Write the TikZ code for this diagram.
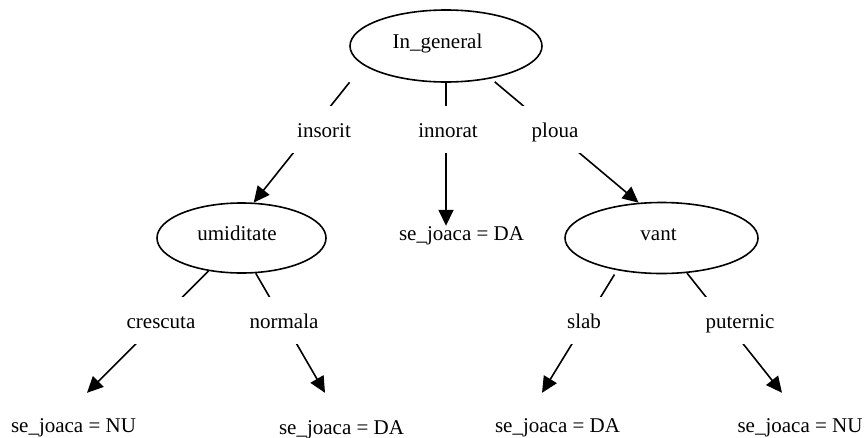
\documentclass[tikz,border=0pt]{standalone}
\usepackage{fontspec}
\setmainfont{Liberation Serif}
\usetikzlibrary{arrows.meta,shapes.geometric}
\tikzset{
  basefont/.style={font=\fontsize{21pt}{25pt}\selectfont},
  decision/.style={ellipse, draw, line width=1.6pt, inner sep=0pt,
    minimum width=#1, minimum height=71pt, text height=14pt, text depth=9pt, basefont},
  leaf/.style={inner sep=0pt, text height=14pt, text depth=5pt, anchor=base, basefont},
  edgelabel/.style={fill=white, inner xsep=10pt, inner ysep=11pt,
    text height=20pt, text depth=5pt, anchor=base, basefont},
  branch/.style={line width=1.6pt},
  arrowed/.style={branch, -{Triangle[length=16pt,width=15pt]}}
}
\begin{document}
\begin{tikzpicture}[x=1pt,y=-1pt]
\path[use as bounding box, fill=white] (0,0) rectangle (867,437);

% decision nodes
\node[decision=192pt, minimum height=72pt] (root) at (446,46) {In\_general\hspace*{17pt}};
\node[decision=169pt, minimum height=70pt] (umid) at (241.5,238) {umiditate\hspace*{9pt}};
\node[decision=193pt] (vant) at (661.5,238) {vant\hspace*{6pt}};

% leaves
\node[leaf] (da1) at (461.5,240) {se\_joaca = DA};
\node[leaf] (nu1) at (73.5,432) {se\_joaca = NU};
\node[leaf] (da2) at (341.5,434) {se\_joaca = DA};
\node[leaf] (da3) at (557.5,432) {se\_joaca = DA};
\node[leaf] (nu2) at (800,432) {se\_joaca = NU};

% edges
\draw[arrowed, shorten <=22pt] (root.193) -- (umid.71);
\draw[arrowed] (root.south) -- (root.south |- da1.north);
\draw[arrowed, shorten <=5pt] (root.-36) -- (vant.123);
\draw[arrowed] (umid.225) -- ([xshift=13.5pt,yshift=25pt]nu1.north);
\draw[arrowed] (umid.-68) -- ([xshift=-16.5pt,yshift=27pt]da2.north);
\draw[arrowed, shorten <=5pt] (vant.216) -- ([xshift=-15.5pt,yshift=25pt]da3.north);
\draw[arrowed] (vant.-54) -- ([xshift=-18pt,yshift=25pt]nu2.north);

% edge labels (cover the gap in each edge)
\node[edgelabel] (l-insorit) at (324,137) {insorit};
\node[edgelabel] (l-innorat) at (448,137) {innorat};
\node[edgelabel] (l-ploua) at (555,137) {ploua};
\node[edgelabel] (l-crescuta) at (161,328) {crescuta};
\node[edgelabel] (l-normala) at (284,328) {normala};
\node[edgelabel] (l-slab) at (584,328) {slab};
\node[edgelabel] (l-puternic) at (740,328) {puternic};
\end{tikzpicture}
\end{document}
